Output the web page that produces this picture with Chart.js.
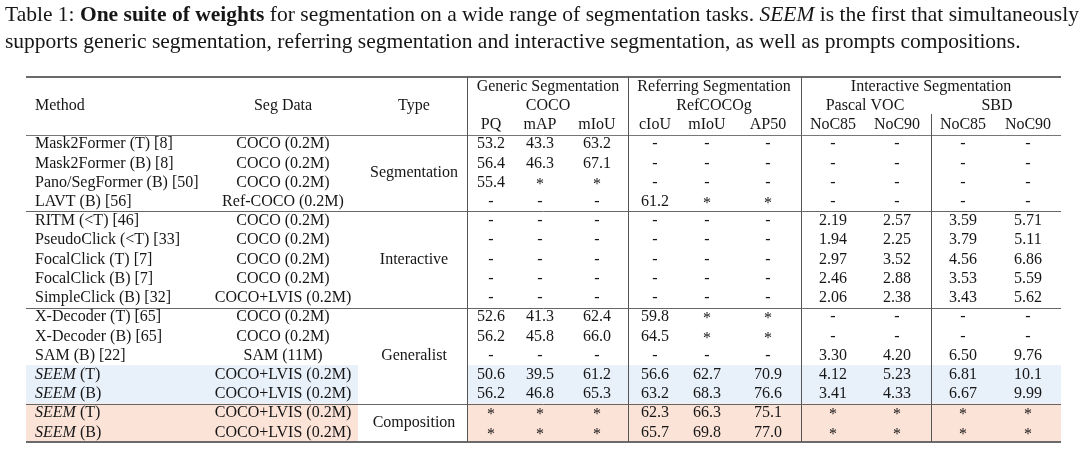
<!DOCTYPE html>
<html>
<head>
<meta charset="utf-8">
<script src="https://cdn.jsdelivr.net/npm/chart.js@4.4.1/dist/chart.umd.min.js"></script>
<style>
  html, body { margin: 0; padding: 0; background: #fff; }
  #wrap { width: 1080px; height: 474px; }
</style>
</head>
<body>
<div id="wrap"><canvas id="tableChart" width="1080" height="474"></canvas></div>
<script>
// Table data
const methods = [
  "Mask2Former (T) [8]", "Mask2Former (B) [8]", "Pano/SegFormer (B) [50]", "LAVT (B) [56]",
  "RITM (<T) [46]", "PseudoClick (<T) [33]", "FocalClick (T) [7]", "FocalClick (B) [7]", "SimpleClick (B) [32]",
  "X-Decoder (T) [65]", "X-Decoder (B) [65]", "SAM (B) [22]", "SEEM (T)", "SEEM (B)",
  "SEEM (T)", "SEEM (B)"
];
const segData = [
  "COCO (0.2M)", "COCO (0.2M)", "COCO (0.2M)", "Ref-COCO (0.2M)",
  "COCO (0.2M)", "COCO (0.2M)", "COCO (0.2M)", "COCO (0.2M)", "COCO+LVIS (0.2M)",
  "COCO (0.2M)", "COCO (0.2M)", "SAM (11M)", "COCO+LVIS (0.2M)", "COCO+LVIS (0.2M)",
  "COCO+LVIS (0.2M)", "COCO+LVIS (0.2M)"
];
const typeGroups = ["Segmentation", "Interactive", "Generalist", "Composition"];
const typeRowCounts = [4, 5, 5, 2];

const cocoPQ   = ["53.2", "56.4", "55.4", "-", "-", "-", "-", "-", "-", "52.6", "56.2", "-", "50.6", "56.2", "*", "*"];
const cocoMAP  = ["43.3", "46.3", "*", "-", "-", "-", "-", "-", "-", "41.3", "45.8", "-", "39.5", "46.8", "*", "*"];
const cocoMIoU = ["63.2", "67.1", "*", "-", "-", "-", "-", "-", "-", "62.4", "66.0", "-", "61.2", "65.3", "*", "*"];
const refCIoU  = ["-", "-", "-", "61.2", "-", "-", "-", "-", "-", "59.8", "64.5", "-", "56.6", "63.2", "62.3", "65.7"];
const refMIoU  = ["-", "-", "-", "*", "-", "-", "-", "-", "-", "*", "*", "-", "62.7", "68.3", "66.3", "69.8"];
const refAP50  = ["-", "-", "-", "*", "-", "-", "-", "-", "-", "*", "*", "-", "70.9", "76.6", "75.1", "77.0"];
const vocNoC85 = ["-", "-", "-", "-", "2.19", "1.94", "2.97", "2.46", "2.06", "-", "-", "3.30", "4.12", "3.41", "*", "*"];
const vocNoC90 = ["-", "-", "-", "-", "2.57", "2.25", "3.52", "2.88", "2.38", "-", "-", "4.20", "5.23", "4.33", "*", "*"];
const sbdNoC85 = ["-", "-", "-", "-", "3.59", "3.79", "4.56", "3.53", "3.43", "-", "-", "6.50", "6.81", "6.67", "*", "*"];
const sbdNoC90 = ["-", "-", "-", "-", "5.71", "5.11", "6.86", "5.59", "5.62", "-", "-", "9.76", "10.1", "9.99", "*", "*"];

const metricNames = ["PQ", "mAP", "mIoU", "cIoU", "mIoU", "AP50", "NoC85", "NoC90", "NoC85", "NoC90"];
const groupNames = ["Generic Segmentation", "Referring Segmentation", "Interactive Segmentation"];
const subGroupNames = ["COCO", "RefCOCOg", "Pascal VOC", "SBD"];

const captionLine1 = [
  { t: "Table 1: " },
  { t: "One suite of weights", b: true },
  { t: " for segmentation on a wide range of segmentation tasks. " },
  { t: "SEEM", i: true },
  { t: " is the first that simultaneously" }
];
const captionLine2 = [
  { t: "supports generic segmentation, referring segmentation and interactive segmentation, as well as prompts compositions." }
];

// Layout (x in canvas px on the hidden x scale, y in row units)
const HEADER_ROWS = 3;
const metricX = [491, 540, 597, 655, 707, 768, 833, 897, 963, 1028];
const groupX = [548, 714, 931];
const subGroupX = [548, 714, 865, 997];
const methodX = 35, segX = 283, typeX = 414;
const tableLeft = 26, tableRight = 1061;
const vLines = [467, 628, 801];
const sbdLineX = 931;
const FONT = "'Liberation Serif', 'Times New Roman', serif";
const TEXT = "#161616";

const valueColumns = [cocoPQ, cocoMAP, cocoMIoU, refCIoU, refMIoU, refAP50, vocNoC85, vocNoC90, sbdNoC85, sbdNoC90];

const datasets = valueColumns.map((col, c) => ({
  label: metricNames[c],
  data: col.map((v, r) => ({ x: metricX[c], y: r + HEADER_ROWS, txt: v })),
  pointRadius: 0,
  pointHoverRadius: 0,
  showLine: false
}));

function font(size, bold, italic) {
  return (italic ? "italic " : "") + (bold ? "bold " : "") + size + "px " + FONT;
}

function drawRuns(ctx, runs, x, y, size) {
  runs.forEach(run => {
    ctx.font = font(size, run.b, run.i);
    ctx.fillText(run.t, x, y);
    x += ctx.measureText(run.t).width;
  });
}

// split "SEEM (T)" so the model name is set in italic
function methodRuns(name) {
  if (name.startsWith("SEEM")) return [{ t: "SEEM", i: true }, { t: name.slice(4) }];
  return [{ t: name }];
}

const tablePlugin = {
  id: "tablePlugin",
  beforeDatasetsDraw(chart) {
    const { ctx, scales: { x, y } } = chart;
    const rowTop = r => y.getPixelForValue(r - 0.5);
    ctx.save();
    // highlighted bands for SEEM rows
    const bands = [[12, 13, "#e8f0fa"], [14, 15, "#fce3d8"]];
    bands.forEach(([r0, r1, color]) => {
      const top = rowTop(r0 + HEADER_ROWS);
      const bot = rowTop(r1 + HEADER_ROWS + 1);
      ctx.fillStyle = color;
      ctx.fillRect(x.getPixelForValue(tableLeft), top, x.getPixelForValue(358) - x.getPixelForValue(tableLeft), bot - top);
      ctx.fillRect(x.getPixelForValue(vLines[0]), top, x.getPixelForValue(tableRight) - x.getPixelForValue(vLines[0]), bot - top);
    });
    ctx.restore();
  },
  afterDatasetsDraw(chart) {
    const { ctx, scales: { x, y } } = chart;
    const rowTop = r => Math.round(y.getPixelForValue(r - 0.5));
    const px = v => x.getPixelForValue(v);
    ctx.save();

    // horizontal rules
    const hRule = (r, w, color) => {
      ctx.strokeStyle = color;
      ctx.lineWidth = w;
      ctx.beginPath();
      const yy = rowTop(r) + (w % 2 ? 0.5 : 0);
      ctx.moveTo(px(tableLeft), yy);
      ctx.lineTo(px(tableRight), yy);
      ctx.stroke();
    };
    const total = HEADER_ROWS + methods.length;
    hRule(0, 2, "#6a6a6a");
    hRule(HEADER_ROWS, 1, "#777");
    let acc = HEADER_ROWS;
    typeRowCounts.forEach((n, i) => {
      acc += n;
      if (i < typeRowCounts.length - 1) hRule(acc, 1, "#666");
    });
    hRule(total, 2, "#6a6a6a");

    // vertical rules
    ctx.strokeStyle = "#555";
    ctx.lineWidth = 1;
    vLines.forEach(v => {
      ctx.beginPath();
      ctx.moveTo(Math.round(px(v)) + 0.5, rowTop(0));
      ctx.lineTo(Math.round(px(v)) + 0.5, rowTop(total));
      ctx.stroke();
    });
    ctx.beginPath();
    ctx.moveTo(Math.round(px(sbdLineX)) + 0.5, rowTop(2) - 1);
    ctx.lineTo(Math.round(px(sbdLineX)) + 0.5, rowTop(total));
    ctx.stroke();

    ctx.fillStyle = TEXT;
    ctx.textBaseline = "middle";
    ctx.font = font(16);

    // header
    ctx.textAlign = "center";
    groupNames.forEach((g, i) => ctx.fillText(g, px(groupX[i]), y.getPixelForValue(0)));
    subGroupNames.forEach((g, i) => ctx.fillText(g, px(subGroupX[i]), y.getPixelForValue(1)));
    metricNames.forEach((m, i) => ctx.fillText(m, px(metricX[i]), y.getPixelForValue(2)));
    ctx.fillText("Seg Data", px(segX), y.getPixelForValue(1));
    ctx.fillText("Type", px(typeX), y.getPixelForValue(1));
    ctx.textAlign = "left";
    ctx.fillText("Method", px(methodX), y.getPixelForValue(1));

    // body: method + seg data
    methods.forEach((m, r) => {
      const yy = y.getPixelForValue(r + HEADER_ROWS);
      ctx.textAlign = "left";
      drawRuns(ctx, methodRuns(m), px(methodX), yy, 16);
      ctx.textAlign = "center";
      ctx.font = font(16);
      ctx.fillText(segData[r], px(segX), yy);
    });

    // type groups, centred on their block of rows
    let start = HEADER_ROWS;
    typeGroups.forEach((g, i) => {
      const mid = start + (typeRowCounts[i] - 1) / 2;
      ctx.fillText(g, px(typeX), y.getPixelForValue(mid));
      start += typeRowCounts[i];
    });

    // values from the dataset points
    chart.data.datasets.forEach((ds, di) => {
      chart.getDatasetMeta(di).data.forEach((pt, i) => {
        const v = ds.data[i].txt;
        ctx.fillText(v, pt.x, v === "*" ? pt.y + 2 : pt.y);
      });
    });

    // caption
    ctx.textAlign = "left";
    ctx.textBaseline = "alphabetic";
    drawRuns(ctx, captionLine1, 5, 21, 21.5);
    drawRuns(ctx, captionLine2, 5, 48, 21.5);
    ctx.restore();
  }
};

new Chart(document.getElementById("tableChart"), {
  type: "scatter",
  data: { datasets: datasets },
  options: {
    responsive: false,
    animation: false,
    events: [],
    layout: { padding: { top: 77, bottom: 32, left: 0, right: 0 } },
    scales: {
      x: { type: "linear", min: 0, max: 1080, display: false },
      y: { type: "linear", min: -0.5, max: HEADER_ROWS + methods.length - 0.5, reverse: true, display: false }
    },
    plugins: {
      legend: { display: false },
      tooltip: { enabled: false },
      title: { display: false }
    }
  },
  plugins: [tablePlugin]
});
</script>
</body>
</html>
